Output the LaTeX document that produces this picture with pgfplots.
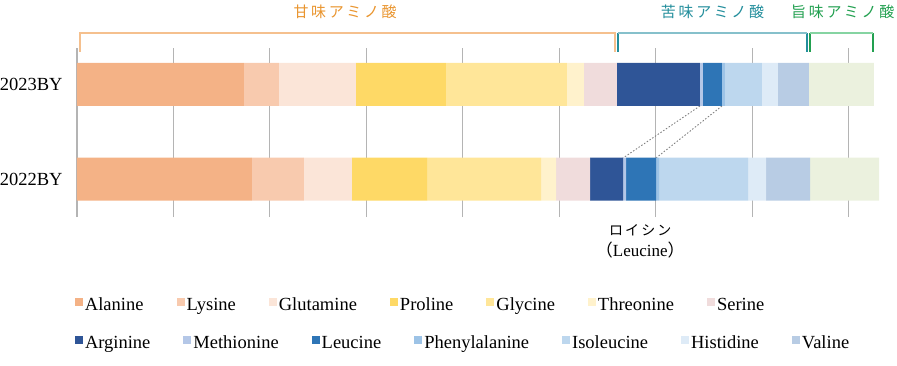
\documentclass[border=0pt]{standalone}
\usepackage{fontspec}
\setmainfont{Liberation Serif}
\newfontfamily\cjk{Noto Sans CJK JP}
\usepackage{pgfplots}
\pgfplotsset{compat=1.18}
\definecolor{c1}{HTML}{F4B286}
\definecolor{c2}{HTML}{F8CAAE}
\definecolor{c3}{HTML}{FBE5D8}
\definecolor{c4}{HTML}{FED966}
\definecolor{c5}{HTML}{FFE699}
\definecolor{c6}{HTML}{FFF2CC}
\definecolor{c7}{HTML}{F0DCDC}
\definecolor{c8}{HTML}{2F5597}
\definecolor{c9}{HTML}{B4C7E7}
\definecolor{c10}{HTML}{2E75B6}
\definecolor{c11}{HTML}{9DC3E6}
\definecolor{c12}{HTML}{BDD7EE}
\definecolor{c13}{HTML}{DEEBF7}
\definecolor{c14}{HTML}{B8CCE4}
\definecolor{c15}{HTML}{EBF1DE}
\definecolor{sweetL}{HTML}{F5C08E}
\definecolor{sweetT}{HTML}{E9952F}
\definecolor{bitterL}{HTML}{86C0CB}
\definecolor{bitterD}{HTML}{238E9C}
\definecolor{umamiL}{HTML}{86D4A2}
\definecolor{umamiD}{HTML}{22A050}
\definecolor{gridc}{HTML}{B4B4B4}
\pgfplotsset{
  common/.style={
    at={(77pt,148pt)}, anchor=south west, scale only axis,
    width=819.8pt, height=169pt,
    xmin=0, xmax=85, ymin=-0.402, ymax=1.386,
  },
  leg/.style={
    legend style={at={(0,#1)}, anchor=west, xshift=-2pt, draw=none, fill=none,
      inner sep=0pt, outer sep=0pt,
      font=\fontsize{18.5}{20}\selectfont,
      nodes={inner sep=2pt},
      /tikz/every even column/.append style={column sep=31pt}},
    legend columns=-1,
    legend image code/.code={\path[##1, draw=none] (0pt,-1pt) rectangle (8pt,7pt);},
  },
}
\begin{document}
\begin{tikzpicture}
\begin{axis}[common,
  xbar stacked, bar width=43pt, leg=-0.521,
  separate axis lines,
  axis line style={draw=none},
  every outer x axis line/.append style={draw=none},
  every outer y axis line/.append style={draw=none},
  tick style={draw=none}, major tick length=0pt,
  xtick={0,10,...,80}, xticklabels={}, xmajorgrids,
  major grid style={draw=gridc, line width=1.2pt},
  ytick={0,1}, yticklabels={2022BY,2023BY},
  yticklabel style={font=\fontsize{18.5}{20}\selectfont, xshift=-11pt},
  clip=false,
  legend entries={Alanine,Lysine,Glutamine,Proline,Glycine,Threonine,Serine},
]
\addplot[fill=c1, draw=none] coordinates {(17.31,1) (18.14,0)};
\addplot[fill=c2, draw=none] coordinates {(3.63,1) (5.39,0)};
\addplot[fill=c3, draw=none] coordinates {(7.98,1) (4.98,0)};
\addplot[fill=c4, draw=none] coordinates {(9.33,1) (7.78,0)};
\addplot[fill=c5, draw=none] coordinates {(12.55,1) (11.82,0)};
\addplot[fill=c6, draw=none] coordinates {(1.76,1) (1.56,0)};
\addplot[fill=c7, draw=none] coordinates {(3.42,1) (3.53,0)};
\addplot[fill=c8, draw=none] coordinates {(8.61,1) (3.42,0)};
\addplot[fill=c9, draw=none] coordinates {(0.31,1) (0.31,0)};
\addplot[fill=c10, draw=none] coordinates {(1.97,1) (3.11,0)};
\addplot[fill=c11, draw=none] coordinates {(0.31,1) (0.31,0)};
\addplot[fill=c12, draw=none] coordinates {(3.84,1) (9.23,0)};
\addplot[fill=c13, draw=none] coordinates {(1.66,1) (1.87,0)};
\addplot[fill=c14, draw=none] coordinates {(3.21,1) (4.56,0)};
\addplot[fill=c15, draw=none] coordinates {(6.74,1) (7.15,0)};
% brackets
\draw[sweetL, line width=1.6pt] (axis cs:0.31,1.344) -- (axis cs:0.31,1.545) -- (axis cs:55.78,1.545) -- (axis cs:55.78,1.344);
\draw[bitterL, line width=1.6pt] (axis cs:56.09,1.545) -- (axis cs:75.69,1.545);
\draw[bitterD, line width=1.3pt] (axis cs:56.09,1.344) -- (axis cs:56.09,1.545) (axis cs:75.69,1.344) -- (axis cs:75.69,1.545);
\draw[umamiL, line width=1.6pt] (axis cs:76.0,1.545) -- (axis cs:82.53,1.545);
\draw[umamiD, line width=1.3pt] (axis cs:76.0,1.344) -- (axis cs:76.0,1.545) (axis cs:82.53,1.344) -- (axis cs:82.53,1.545);
\node[text=sweetT, font=\cjk\fontsize{15}{17}\selectfont\addfontfeature{LetterSpace=18}] at (axis cs:27.8,1.767) {甘味アミノ酸};
\node[text=bitterD, font=\cjk\fontsize{15}{17}\selectfont\addfontfeature{LetterSpace=18}] at (axis cs:65.9,1.767) {苦味アミノ酸};
\node[text=umamiD, font=\cjk\fontsize{15}{17}\selectfont\addfontfeature{LetterSpace=18}] at (axis cs:79.4,1.767) {旨味アミノ酸};
% leucine connectors
\draw[gray, line width=0.9pt, dash pattern=on 1.5pt off 1.8pt] (axis cs:64.59,0.7725) -- (axis cs:56.61,0.222);
\draw[gray, line width=0.9pt, dash pattern=on 1.5pt off 1.8pt] (axis cs:66.87,0.7725) -- (axis cs:60.03,0.222);
\node[font=\cjk\fontsize{14}{16}\selectfont\addfontfeature{LetterSpace=15}] at (axis cs:58.4,-0.54) {ロイシン};
\node[font=\fontsize{17}{19}\selectfont] at (axis cs:58.4,-0.75) {{\cjk （}Leucine{\cjk ）}};
\end{axis}
\begin{axis}[common, hide axis, leg=-0.746]
\addlegendimage{fill=c8, draw=none}\addlegendentry{Arginine}
\addlegendimage{fill=c9, draw=none}\addlegendentry{Methionine}
\addlegendimage{fill=c10, draw=none}\addlegendentry{Leucine}
\addlegendimage{fill=c11, draw=none}\addlegendentry{Phenylalanine}
\addlegendimage{fill=c12, draw=none}\addlegendentry{Isoleucine}
\addlegendimage{fill=c13, draw=none}\addlegendentry{Histidine}
\addlegendimage{fill=c14, draw=none}\addlegendentry{Valine}
\end{axis}
\pgfresetboundingbox
\path (0,0) rectangle (897pt,365pt);
\end{tikzpicture}
\end{document}
